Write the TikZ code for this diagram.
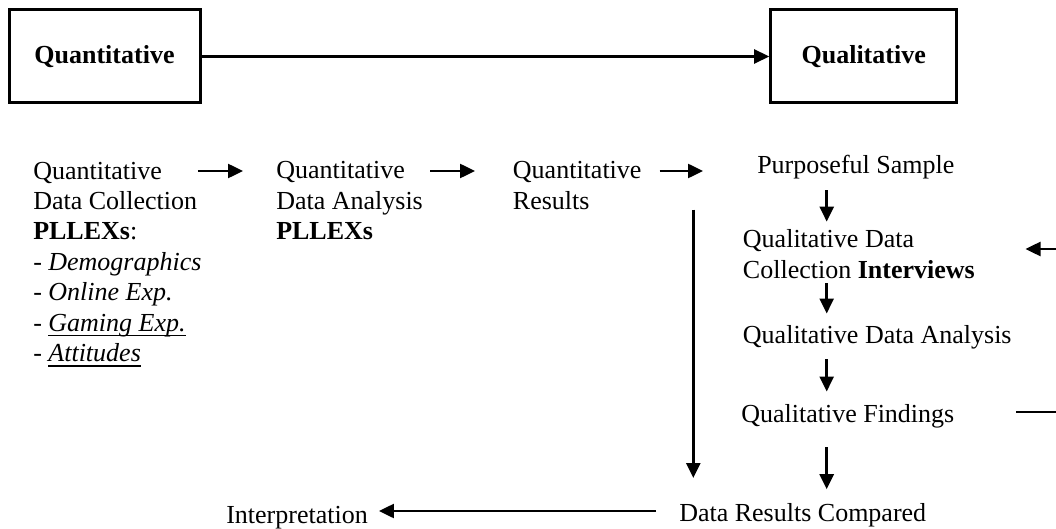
\documentclass[tikz,border=0pt]{standalone}
\usepackage{fontspec}
\setmainfont{Liberation Serif}
\usetikzlibrary{arrows,arrows.meta}

\newcommand{\undl}[1]{\setbox0\hbox{#1}\rlap{\rule[-5.3pt]{\wd0}{1.5pt}}\box0}

\begin{document}
\begin{tikzpicture}[
        x=1pt, y=-1pt, % pixel grid, y runs down
        >={Triangle[length=15pt, width=14pt]}, % arrow head style
        line width=2.5pt]

        \tikzstyle{every node}=[
            inner sep = 0pt,
            font = \fontsize{26}{30.4}\selectfont
        ]
        \tikzstyle{phase}=[
            draw = black,
            line width = 3pt,
            minimum height = 93pt,
            font = \fontsize{26}{30.4}\selectfont\bfseries
        ]
        % base of a multi-line text is its last line
        \tikzset{txt/.style={anchor=base west, align=left}}

        \useasboundingbox (0,0) rectangle (1056,529);

        % rows and columns the arrows run along
        \coordinate (row) at (0,171);
        \coordinate (trunk) at (693.3,0);
        \coordinate (spine) at (826.7,0);
        \coordinate (low) at (0,511);
        \coordinate (fbin) at (1056,249);
        \coordinate (fbout) at (1056,412);

        \node[phase, minimum width=191pt] (qn) at (104.5,56.5) {Quantitative};
        \node[phase, minimum width=186pt] (ql) at (863.7,56.5) {Qualitative};

        \node[txt] (qncoll) at (32,361.4) {Quantitative\\Data Collection\\\textbf{PLLEXs}:\\- \textit{Demographics}\\- \textit{Online Exp.}\\- \undl{\textit{Gaming Exp.}}\\- \undl{\textit{Attitudes}}};
        \node[txt] (qnana) at (275,239.8) {Quantitative\\Data Analysis\\\textbf{PLLEXs}};
        \node[txt] (qnres) at (511.7,209.4) {Quantitative\\Results};
        \node[txt] (purp) at (756,174) {Purposeful Sample};
        \node[txt] (qlcoll) at (741.7,278) {Qualitative Data\\Collection \textbf{Interviews}};
        \node[txt] (qlana) at (741.7,343.5) {Qualitative Data Analysis};
        \node[txt] (qlfind) at (740,422.5) {Qualitative Findings};
        \node[txt] (compare) at (678,521.5) {Data Results Compared};
        \node[txt] (interp) at (225,523) {Interpretation};

        \draw[->] (qn) -- (ql);
        \draw[->, shorten <=-5pt, shorten >=32pt] (qncoll.east |- row) -- (qnana.west |- row);
        \draw[->, shorten <=6.4pt, shorten >=36.7pt] (qnana.east |- row) -- (qnres.west |- row);
        \draw[->, shorten <=16.8pt, shorten >=53pt] (qnres.east |- row) -- (purp.west |- row);

        \draw[->, shorten <=9.4pt, shorten >=6.7pt] (purp.south -| spine) -- (qlcoll.north -| spine);
        \draw[->, shorten <=3.7pt, shorten >=10.7pt] (qlcoll.south -| spine) -- (qlana.north -| spine);
        \draw[->, shorten <=8.9pt, shorten >=11.7pt] (qlana.south -| spine) -- (qlfind.north -| spine);
        \draw[->, shorten <=17.9pt, shorten >=13pt] (qlfind.south -| spine) -- (compare.north -| spine);

        \draw[->, shorten <=-1.4pt, shorten >=24.2pt] (qnres.south -| trunk) -- (compare.north -| trunk);
        \draw[->, shorten <=22pt, shorten >=10pt] (compare.west |- low) -- (interp.east |- low);

        \draw[->, shorten >=49.5pt] (fbin) -- (qlcoll.east |- fbin);
        \draw[shorten <=60.6pt] (qlfind.east |- fbout) -- (fbout);
\end{tikzpicture}
\end{document}
